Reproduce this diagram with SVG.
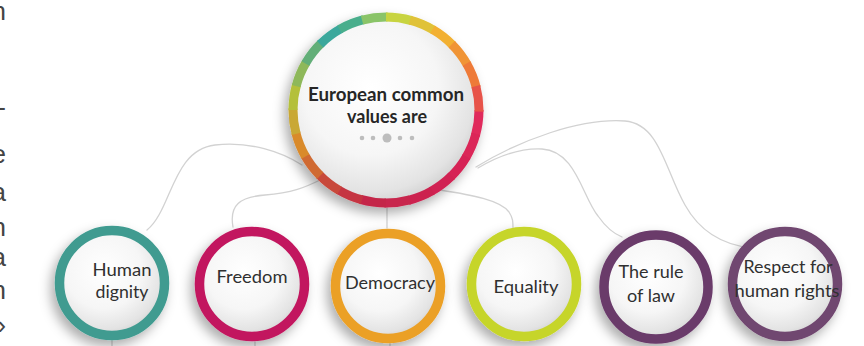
<svg xmlns="http://www.w3.org/2000/svg" width="864" height="346" viewBox="0 0 864 346">
  <style>
    .link { fill: none; stroke: #d2d2d2; stroke-width: 1.3; stroke-linecap: round; }
    .face { fill: url(#face); }
    .ring { fill: none; stroke-width: 9.5; }
    .seg { fill: none; stroke-width: 9; stroke-dasharray: 16 344; }
    .label { font-family: Lato, "Open Sans", "Liberation Sans", sans-serif; font-size: 18px; fill: #303030; text-anchor: middle; }
    .title { font-family: Lato, "Open Sans", "Liberation Sans", sans-serif; font-size: 18px; font-weight: bold; fill: #262626; text-anchor: middle; }
    .margin { font-family: "Liberation Sans", Arial, sans-serif; font-size: 26px; fill: #444; text-anchor: end; }
    .dot { fill: #bdbdbd; }
  </style>
  <defs>
    <radialGradient id="face" cx="0.42" cy="0.38" r="0.66">
      <stop offset="0" stop-color="#ffffff"/>
      <stop offset="0.55" stop-color="#f6f6f6"/>
      <stop offset="0.85" stop-color="#e3e3e3"/>
      <stop offset="1" stop-color="#cccccc"/>
    </radialGradient>
    <filter id="shadow" x="-30%" y="-30%" width="160%" height="160%">
      <feDropShadow dx="-4" dy="6" stdDeviation="6" flood-color="#000" flood-opacity="0.32"/>
    </filter>
  </defs>

  <rect width="864" height="346" fill="#ffffff"/>

  <!-- cut-off line ends of the neighbouring text column -->
  <g id="margin-text">
    <text class="margin" x="6" y="20">n</text>
    <text class="margin" x="6" y="116">-</text>
    <text class="margin" x="6" y="163">e</text>
    <text class="margin" x="6" y="201">a</text>
    <text class="margin" x="6" y="236">n</text>
    <text class="margin" x="6" y="266">a</text>
    <text class="margin" x="6" y="299">n</text>
    <text class="margin" x="6" y="334">»</text>
  </g>

  <g id="connectors">
    <path class="link" d="M147,230 C172,210 172,150 215,145 C250,141 282,152 302,165"/>
    <path class="link" d="M233,227 C229,205 240,197 265,195 C292,193 306,187 320,180"/>
    <path class="link" d="M387,205 L387,228"/>
    <path class="link" d="M440,190 C472,195 500,200 509,212 C513,218 513,222 513,228"/>
    <path class="link" d="M478,168 C500,155 522,148 542,149 C576,151 582,196 598,216 C605,226 612,233 622,237"/>
    <path class="link" d="M476,167 C520,140 580,118 625,121 C660,124 665,170 685,205 C700,232 722,245 752,248"/>
    <path class="link" d="M112,340 V346"/>
    <path class="link" d="M255,342 V346"/>
    <path class="link" d="M390,343 V346"/>
  </g>

  <!-- central node with a multicolour ring built from arc segments -->
  <g id="central">
    <g filter="url(#shadow)">
      <circle class="face" cx="386" cy="110" r="93"/>
      <g transform="translate(386 110)">
        <circle class="seg" r="93" pathLength="360" stroke="#e02a5c" stroke-dashoffset="0"/>
        <circle class="seg" r="93" pathLength="360" stroke="#db2758" stroke-dashoffset="-15"/>
        <circle class="seg" r="93" pathLength="360" stroke="#d62454" stroke-dashoffset="-30"/>
        <circle class="seg" r="93" pathLength="360" stroke="#d12452" stroke-dashoffset="-45"/>
        <circle class="seg" r="93" pathLength="360" stroke="#cc2450" stroke-dashoffset="-60"/>
        <circle class="seg" r="93" pathLength="360" stroke="#c8264d" stroke-dashoffset="-75"/>
        <circle class="seg" r="93" pathLength="360" stroke="#c4284a" stroke-dashoffset="-90"/>
        <circle class="seg" r="93" pathLength="360" stroke="#c53642" stroke-dashoffset="-105"/>
        <circle class="seg" r="93" pathLength="360" stroke="#c8483a" stroke-dashoffset="-120"/>
        <circle class="seg" r="93" pathLength="360" stroke="#d06a32" stroke-dashoffset="-135"/>
        <circle class="seg" r="93" pathLength="360" stroke="#d98a2c" stroke-dashoffset="-150"/>
        <circle class="seg" r="93" pathLength="360" stroke="#c9a834" stroke-dashoffset="-165"/>
        <circle class="seg" r="93" pathLength="360" stroke="#b4c03a" stroke-dashoffset="-180"/>
        <circle class="seg" r="93" pathLength="360" stroke="#8eb85a" stroke-dashoffset="-195"/>
        <circle class="seg" r="93" pathLength="360" stroke="#62ae78" stroke-dashoffset="-210"/>
        <circle class="seg" r="93" pathLength="360" stroke="#3aa89c" stroke-dashoffset="-225"/>
        <circle class="seg" r="93" pathLength="360" stroke="#4aae8c" stroke-dashoffset="-240"/>
        <circle class="seg" r="93" pathLength="360" stroke="#8ac468" stroke-dashoffset="-255"/>
        <circle class="seg" r="93" pathLength="360" stroke="#c8d440" stroke-dashoffset="-270"/>
        <circle class="seg" r="93" pathLength="360" stroke="#e0c238" stroke-dashoffset="-285"/>
        <circle class="seg" r="93" pathLength="360" stroke="#f2b030" stroke-dashoffset="-300"/>
        <circle class="seg" r="93" pathLength="360" stroke="#f09434" stroke-dashoffset="-315"/>
        <circle class="seg" r="93" pathLength="360" stroke="#ee7a38" stroke-dashoffset="-330"/>
        <circle class="seg" r="93" pathLength="360" stroke="#e75248" stroke-dashoffset="-345"/>
      </g>
    </g>
    <text class="title" x="386" y="101" textLength="156" lengthAdjust="spacingAndGlyphs">European common</text>
    <text class="title" x="387" y="123" textLength="80" lengthAdjust="spacingAndGlyphs">values are</text>
    <circle class="dot" cx="362" cy="138" r="2.3"/>
    <circle class="dot" cx="373" cy="138" r="2.3"/>
    <circle class="dot" cx="387" cy="138" r="4.5"/>
    <circle class="dot" cx="400" cy="138" r="2.3"/>
    <circle class="dot" cx="412" cy="138" r="2.3"/>
  </g>

  <g id="human-dignity">
    <g filter="url(#shadow)">
      <circle class="face" cx="112" cy="283" r="52.5"/>
      <circle class="ring" cx="112" cy="283" r="52.5" stroke="#3f9b90"/>
    </g>
    <text class="label" x="122" y="276" textLength="59" lengthAdjust="spacingAndGlyphs">Human</text>
    <text class="label" x="122" y="298" textLength="53" lengthAdjust="spacingAndGlyphs">dignity</text>
  </g>

  <g id="freedom">
    <g filter="url(#shadow)">
      <circle class="face" cx="252" cy="284" r="52.5"/>
      <circle class="ring" cx="252" cy="284" r="52.5" stroke="#c2175f"/>
    </g>
    <text class="label" x="252" y="283" textLength="71" lengthAdjust="spacingAndGlyphs">Freedom</text>
  </g>

  <g id="democracy">
    <g filter="url(#shadow)">
      <circle class="face" cx="388" cy="286" r="52.5"/>
      <circle class="ring" cx="388" cy="286" r="52.5" stroke="#eba028"/>
    </g>
    <text class="label" x="390" y="289" textLength="90" lengthAdjust="spacingAndGlyphs">Democracy</text>
  </g>

  <g id="equality">
    <g filter="url(#shadow)">
      <circle class="face" cx="524" cy="284" r="52.5"/>
      <circle class="ring" cx="524" cy="284" r="52.5" stroke="#c6d52a"/>
    </g>
    <text class="label" x="526" y="293" textLength="65" lengthAdjust="spacingAndGlyphs">Equality</text>
  </g>

  <g id="rule-of-law">
    <g filter="url(#shadow)">
      <circle class="face" cx="656" cy="287" r="52"/>
      <circle class="ring" cx="656" cy="287" r="52" stroke="#6a3a6b"/>
    </g>
    <text class="label" x="651" y="278" textLength="65" lengthAdjust="spacingAndGlyphs">The rule</text>
    <text class="label" x="651" y="302" textLength="48" lengthAdjust="spacingAndGlyphs">of law</text>
  </g>

  <g id="human-rights">
    <g filter="url(#shadow)">
      <circle class="face" cx="785" cy="284" r="52.5"/>
      <circle class="ring" cx="785" cy="284" r="52.5" stroke="#70466f"/>
    </g>
    <text class="label" x="788" y="273" textLength="89" lengthAdjust="spacingAndGlyphs">Respect for</text>
    <text class="label" x="787" y="297" textLength="105" lengthAdjust="spacingAndGlyphs">human rights</text>
  </g>
</svg>
